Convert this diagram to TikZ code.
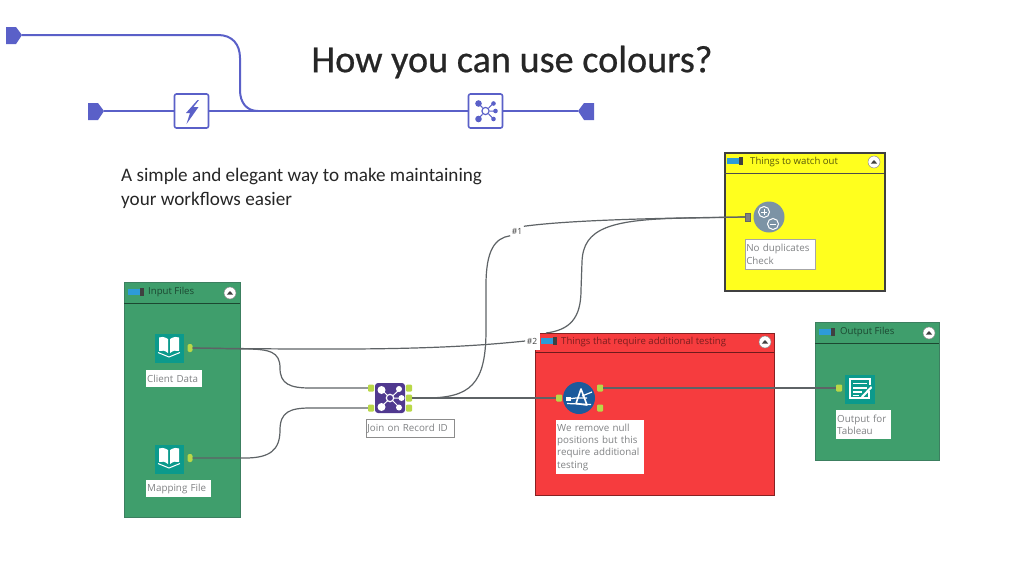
\documentclass[tikz,border=0pt]{standalone}
\usepackage{fontspec}
\setmainfont{Carlito}
\newfontfamily\wf{Open Sans}
\newfontfamily\titlef[FakeBold=0.6]{Carlito}
\usetikzlibrary{calc}
\definecolor{flow}{HTML}{5A60C8}
\definecolor{pgreen}{HTML}{3F9E6C}
\definecolor{pgreenb}{HTML}{3C7F60}
\definecolor{pred}{HTML}{F63C3E}
\definecolor{pyellow}{HTML}{FFFF1E}
\definecolor{teal}{HTML}{0B9A8C}
\definecolor{jp}{HTML}{50398F}
\definecolor{tabg}{HTML}{B9D848}
\definecolor{wire}{HTML}{5E6366}
\definecolor{lbl}{HTML}{808284}
\definecolor{barb}{HTML}{2D9BD8}
\definecolor{fblue}{HTML}{1B5A9C}
\definecolor{cgray}{HTML}{7C93A5}
\tikzset{
 x=1pt,y=-1pt,
 flowline/.style={draw=flow,line width=2pt},
 flowbox/.style={draw=flow,line width=1.6pt,fill=white,rounded corners=2pt,minimum width=34pt,minimum height=34pt,inner sep=0pt},
 wireline/.style={draw=wire,line width=1.2pt},
 panel/.style={rectangle,inner sep=0pt,anchor=north west},
 tlabel/.style={anchor=west,inner sep=0pt,font=\wf\fontsize{9.6}{11}\selectfont},
 wlabel/.style={fill=white,inner sep=1pt,anchor=north west,font=\wf\fontsize{9.8}{12.4}\selectfont,text=lbl,align=left},
 tabnode/.style={fill=tabg,rectangle,rounded corners=1pt,minimum width=6pt,minimum height=7pt,inner sep=0pt},
 halfdot/.style={fill=tabg,rectangle,rounded corners=2pt,minimum width=5pt,minimum height=8pt,inner sep=0pt},
 hash/.style={fill=white,inner sep=1.5pt,font=\wf\fontsize{8.5}{10}\selectfont,text=black!75},
 teal box/.style={fill=teal,minimum width=29pt,minimum height=29pt,inner sep=0pt},
 pics/collapse/.style={code={
   \fill[white,draw=black!45,line width=.5pt] (0,0) circle (6);
   \fill[black!75] (-3.2,1.6) -- (0,-2) -- (3.2,1.6) -- cycle;}},
 pics/headicon/.style={code={
   \fill[barb] (0,-2.6) rectangle (12,2.6);
   \fill[black!75] (11.5,-3.8) rectangle (16,3.8);}},
 pics/bookicon/.style={code={
   \fill[white] (-1,-8) .. controls (-5,-10.5) and (-8,-10.5) .. (-10,-9.5) -- (-10,4) .. controls (-7,3) and (-4,3.5) .. (-1,6) -- cycle;
   \fill[white] (1,-8) .. controls (5,-10.5) and (8,-10.5) .. (10,-9.5) -- (10,4) .. controls (7,3) and (4,3.5) .. (1,6) -- cycle;
   \draw[white,line width=1pt] (-11,5.5) -- (0,10) -- (11,5.5);}},
}
\begin{document}
\begin{tikzpicture}
\useasboundingbox (0,0) rectangle (1024,576);
\fill[white] (0,0) rectangle (1024,576);

% title and subtitle
\node[anchor=center,inner sep=0pt,font=\titlef\fontsize{38.2}{44}\selectfont,text=black!85] (title) at (512,62) {How you can use colours?};
\node[anchor=north west,inner sep=0pt,align=left,font=\fontsize{19.15}{23.5}\selectfont,text=black!85] (sub) at (121,168) {A simple and elegant way to make maintaining\\your workflows easier};

% top flow
\node[flowbox] (bolt) at (191.5,111) {};
\node[flowbox] (hub) at (485.5,111) {};
\fill[flow] (197.5,100) -- (186,113) -- (190,113) -- (186.5,124) -- (198.5,107) -- (193.5,107) -- (199,100) -- cycle;
\coordinate (s1) at (22,35);
\coordinate (s2) at (104,111);
\coordinate (e1) at (578,111);
\fill[flow] (6,27) -- (16,27) -- (22,35) -- (16,44) -- (6,44) -- cycle;
\fill[flow] (88,103) -- (98,103) -- (104,111) -- (98,120) -- (88,120) -- cycle;
\fill[flow] (594,103) -- (584,103) -- (578,111) -- (584,120) -- (594,120) -- cycle;
\draw[flowline] (s1) -- (218,35) .. controls (232,35) and (240,44) .. (240,58) -- (240,90) .. controls (240,103) and (247,111) .. (258,111);
\draw[flowline] (s2) -- (bolt);
\draw[flowline] (bolt) -- (hub);
\draw[flowline] (hub) -- (e1);
% hub glyph
\begin{scope}[shift={(485.5,111)}]
 \draw[flow,line width=1pt] (-7,-7.5) -- (7,7) (7,-7) -- (-7,7.5) (0,0) -- (10,0);
 \fill[white] (0,0) circle (4.5);
 \draw[flow,line width=1.2pt] (0,0) circle (3.6);
 \fill[flow] (-7,-7.5) circle (3.3) (-7,8) circle (3.3) (8,-7.5) circle (2.3) (10,0) circle (2.3) (8,8) circle (2.3);
\end{scope}

% panels
\node[panel,fill=pgreen,draw=pgreenb,line width=1pt,minimum width=116pt,minimum height=235pt] (pinput) at (124,282) {};
\node[panel,fill=pred,draw=black!45!pred,line width=1pt,minimum width=239pt,minimum height=162pt] (pred) at (535,333) {};
\node[panel,fill=pyellow,draw=black!75,line width=1.7pt,minimum width=160pt,minimum height=138pt] (pyel) at (724,152) {};
\node[panel,fill=pgreen,draw=pgreenb,line width=1pt,minimum width=124pt,minimum height=138pt] (poutp) at (815,322) {};
\draw[black!55!pgreen,line width=.7pt] (124,303) -- (240,303);
\draw[black!55!pred,line width=.7pt] (535,352) -- (774,352);
\draw[black!70,line width=.8pt] (724,173) -- (884,173);
\draw[black!55!pgreen,line width=.7pt] (815,343) -- (939,343);

% #2 notch on the red panel
\fill[white] (524,332) rectangle (540,350);

% panel headers
\pic at (128,292) {headicon};
\pic at (541,341) {headicon};
\pic at (727,161) {headicon};
\pic at (819,332) {headicon};
\node[tlabel,text=black!55!pgreen] (tinput) at (148,292) {Input Files};
\node[tlabel,text=black!50!pred] (tred) at (561,342) {Things that require additional testing};
\node[tlabel,text=black!65!pyellow] (tyel) at (750,162) {Things to watch out};
\node[tlabel,text=black!55!pgreen] (toutp) at (840,332) {Output Files};
\pic at (230,293) {collapse};
\pic at (765,342) {collapse};
\pic at (874,162) {collapse};
\pic at (929,333) {collapse};

% tools
\node[teal box] (client) at (169,348) {};
\pic at (169,347) {bookicon};
\node[teal box] (mapping) at (169,459) {};
\pic at (169,458) {bookicon};
\node[fill=jp,rounded corners=3pt,minimum size=30pt,inner sep=0pt] (join) at (390,398) {};
\begin{scope}[shift={(390,398)}]
 \draw[white,line width=1pt] (-8,-8) -- (9,9) (9,-8) -- (-8,8) (0,0) -- (11,0);
 \fill[jp] (0,0) circle (4);
 \draw[white,line width=1.2pt] (0,0) circle (3.7);
 \fill[white] (-8.5,-8) circle (4) (-8.5,9) circle (4) (9,-9) circle (3) (11.5,0) circle (3) (9,9.5) circle (3);
\end{scope}
\node[circle,fill=fblue,minimum size=32pt,inner sep=0pt] (filter) at (579,398) {};
\begin{scope}[shift={(579,398)}]
 \draw[white,line width=1.6pt,line join=round] (-3,5.5) -- (2,-9) -- (8,7) -- cycle;
 \draw[white,line width=1.2pt] (-11,1) -- (-3,0) -- (8,0);
 \draw[white,line width=1.2pt] (3,-2) -- (13,-6);
 \draw[white,line width=1.2pt] (-12,5.5) -- (12,6.5);
 \fill[white] (-13,-1.5) rectangle (-8,3);
\end{scope}
\node[circle,fill=cgray,minimum size=31pt,inner sep=0pt] (check) at (769,217) {};
\draw[white,line width=1pt] (764,212) circle (5.5) (773,224) circle (5.5);
\draw[white,line width=1pt] (761,212) -- (767,212) (764,209) -- (764,215) (770,224) -- (776,224);
\node[fill=teal,minimum width=30pt,minimum height=29pt,inner sep=0pt] (outp) at (860,389) {};
\begin{scope}[shift={(860,389)}]
 \draw[white,line width=1.3pt] (9,2) -- (9,9) -- (-10,9) -- (-10,-10) -- (10,-10) -- (10,-4);
 \draw[white,line width=1.4pt] (-7,-5.5) -- (7,-5.5) (-7,-1) -- (7,-1) (-7,3) -- (2,3) (-7,6.5) -- (-1,6.5);
 \fill[white] (1,7.5) -- (11,-3) -- (12,-1) -- (3,8.5) -- cycle;
\end{scope}

% anchors
\node[halfdot] (aclient) at (190,348) {};
\node[halfdot] (amap) at (190,458) {};
\node[tabnode] (jl1) at (371,388) {};
\node[tabnode] (jl2) at (371,408) {};
\node[tabnode] (jr1) at (409,388) {};
\node[tabnode] (jr2) at (409,398) {};
\node[tabnode] (jr3) at (409,408) {};
\node[tabnode] (fin) at (559,398) {};
\node[tabnode] (ft) at (600,388) {};
\node[tabnode] (ff) at (600,408) {};
\node[tabnode] (oin) at (839,388) {};
\node[fill=gray,draw=black!60,line width=.4pt,minimum width=5pt,minimum height=8pt,inner sep=0pt] (cin) at (748,217) {};

% connector labels
\node[hash] (h1) at (517,231) {\#1};
\node[hash] (h2) at (532,341) {\#2};

% connectors
\draw[wireline] (aclient.east) .. controls (350,350) and (440,350) .. (h2.west);
\draw[wireline] (aclient.east) -- (245,349) .. controls (270,349) and (280,352) .. (280,368) .. controls (280,384) and (290,388) .. (310,388) -- (jl1.west);
\draw[wireline] (amap.east) -- (245,458) .. controls (270,458) and (280,450) .. (280,430) .. controls (280,412) and (290,408) .. (310,408) -- (jl2.west);
\draw[wireline] (jr2.east) -- (425,398) .. controls (470,398) and (486,385) .. (486,330) -- (486,285) .. controls (486,250) and (495,238) .. (h1.south west);
\draw[wireline] (h1.north east) .. controls (570,220) and (660,218) .. (cin.west);
\draw[wireline] (546,333) .. controls (570,330) and (581,318) .. (581,290) -- (582,262) .. controls (583,228) and (610,219) .. (690,218) -- (cin.west);
\draw[wireline] (jr2.east) -- (fin.west);
\draw[wireline] (ft.east) -- (oin.west);

% tool labels
\node[wlabel,text width=54pt,minimum height=17pt] (lclient) at (146,370) {Client Data};
\node[wlabel,text width=63pt,minimum height=17pt] (lmap) at (146,480) {Mapping File};
\node[wlabel,draw=black!45,line width=.6pt,text width=86pt,minimum height=18pt] (ljoin) at (366,419) {Join on Record ID};
\node[wlabel,text width=86pt,minimum height=54pt] (lfilt) at (556,420) {We remove null\\positions but this\\require additional\\testing};
\node[wlabel,draw=black!35,line width=.5pt,text width=68pt,minimum height=30pt] (lcheck) at (745,239) {No duplicates\\Check};
\node[wlabel,text width=53pt,minimum height=29pt] (loutp) at (836,410) {Output for\\Tableau};
\end{tikzpicture}
\end{document}
